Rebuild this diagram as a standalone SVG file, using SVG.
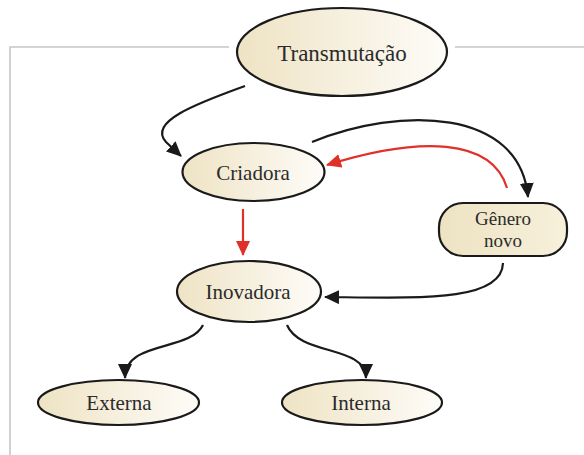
<svg xmlns="http://www.w3.org/2000/svg" width="584" height="455" viewBox="0 0 584 455">
<defs>
<linearGradient id="beige" x1="0" y1="0" x2="1" y2="0">
<stop offset="0" stop-color="#eee3c4"/>
<stop offset="1" stop-color="#fefcf8"/>
</linearGradient>
<linearGradient id="beige2" x1="0" y1="0" x2="1" y2="0">
<stop offset="0" stop-color="#ede3c3"/>
<stop offset="1" stop-color="#f7f0db"/>
</linearGradient>
<marker id="ah" markerUnits="userSpaceOnUse" markerWidth="16" markerHeight="14" refX="14" refY="7" orient="auto">
<path d="M0,0 L15,7 L0,14 Z" fill="#1a1a1a"/>
</marker>
<marker id="ahr" markerUnits="userSpaceOnUse" markerWidth="16" markerHeight="14" refX="14" refY="7" orient="auto">
<path d="M0,0 L15,7 L0,14 Z" fill="#e0302a"/>
</marker>
</defs>
<style>
.node{stroke:#1a1a1a;stroke-width:2.2;fill:url(#beige)}
.box{stroke:#1a1a1a;stroke-width:2.2;fill:url(#beige2)}
.lbl{font-family:"Liberation Serif","Times New Roman",serif;font-size:21px;fill:#2b2b2b;text-anchor:middle}
.c{fill:none;stroke:#1a1a1a;stroke-width:2.2}
.r{fill:none;stroke:#e0302a;stroke-width:2.2}
.frame{fill:none;stroke:#c4c6c8;stroke-width:1.6}
</style>
<g id="frame">
<path class="frame" d="M10,455 L10,47 L229,47"/>
<path class="frame" d="M455,47 L584,47"/>
</g>
<g id="connectors">
<path class="c" d="M245,86 C195,104 148,122 166,142 L181,156" marker-end="url(#ah)"/>
<path class="c" d="M312,142 C400,106 520,108 528,197" marker-end="url(#ah)"/>
<path class="r" d="M507,188 C492,138 420,136 327,165" marker-end="url(#ahr)"/>
<path class="r" d="M243,209 L243,255" marker-end="url(#ahr)"/>
<path class="c" d="M503,263 C502,302 420,298 325,297" marker-end="url(#ah)"/>
<path class="c" d="M203,325 C190,352 125,340 125,378" marker-end="url(#ah)"/>
<path class="c" d="M287,325 C300,356 366,345 366,378" marker-end="url(#ah)"/>
</g>
<g id="transmutacao">
<ellipse class="node" cx="342" cy="52" rx="105" ry="44"/>
<text class="lbl" x="342" y="61" style="font-size:23px">Transmutação</text>
</g>
<g id="criadora">
<ellipse class="node" cx="253.5" cy="172" rx="71" ry="29"/>
<text class="lbl" x="253" y="180">Criadora</text>
</g>
<g id="genero-novo">
<rect class="box" x="439" y="203" width="128" height="53" rx="24" ry="24"/>
<text class="lbl" x="503" y="225" style="font-size:19px">Gênero</text>
<text class="lbl" x="503" y="247" style="font-size:19px">novo</text>
</g>
<g id="inovadora">
<ellipse class="node" cx="249" cy="291.5" rx="72" ry="30.5"/>
<text class="lbl" x="248" y="299">Inovadora</text>
</g>
<g id="externa">
<ellipse class="node" cx="118.5" cy="402.5" rx="80.5" ry="22.5"/>
<text class="lbl" x="119" y="410">Externa</text>
</g>
<g id="interna">
<ellipse class="node" cx="362" cy="402.5" rx="80" ry="22.5"/>
<text class="lbl" x="361" y="410">Interna</text>
</g>
</svg>
